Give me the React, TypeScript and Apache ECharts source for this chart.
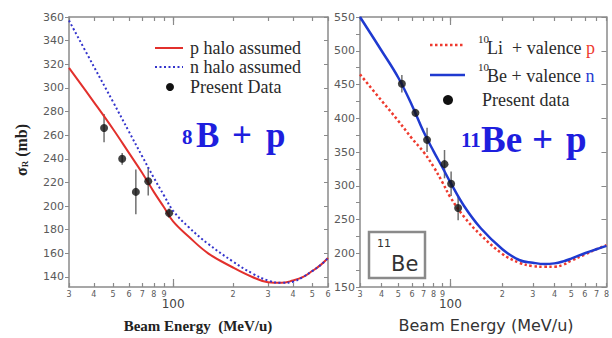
import React, { useEffect, useRef } from "react";
import * as echarts from "echarts";

// ---- Left panel (8B + p) ----
const leftEnergy = [30, 40, 50, 60, 70, 80, 90, 100, 120, 150, 200, 250, 300, 350, 400, 450, 500, 550, 600];
const leftPHalo = [317, 288, 265, 245, 228, 212, 199, 187, 174, 160, 148, 140, 135.5, 135, 137, 140, 145, 150, 156];
const leftNHalo = [357, 318, 288, 263, 242, 224, 209, 196, 182, 168, 153, 143, 137, 135, 136, 140, 145, 150, 156];
const leftDataE = [45, 55.5, 65, 75, 95.5];
const leftDataV = [266, 240, 212, 221, 194];
const leftDataErr = [12, 5, 19, 12, 4];
const leftYTicks = [140, 160, 180, 200, 220, 240, 260, 280, 300, 320, 340, 360];
const leftXTicks = [30, 40, 50, 60, 70, 80, 90, 100, 200, 300, 400, 500, 600];
const leftXSmallLabels = [30, 40, 50, 60, 70, 80, 90, 200, 300, 400, 500, 600];

// ---- Right panel (11Be + p) ----
const rightEnergy = [30, 40, 50, 60, 70, 80, 90, 100, 120, 150, 200, 250, 300, 350, 400, 450, 500, 600, 700, 800];
const rightBeN = [550, 500, 460, 419, 380, 351, 327, 305, 270, 237, 206, 190, 186, 184, 185, 188, 192, 200, 206, 211];
const rightLiP = [465, 426, 396, 370, 350, 328, 305, 283, 254, 227, 199, 186, 181, 180, 180, 183, 189, 198, 206, 212];
const rightDataE = [52.4, 62.8, 73.3, 92.5, 101, 110.9];
const rightDataV = [451, 408, 368, 332, 303, 267];
const rightDataErr = [13, 5, 18, 21, 18, 18];
const rightXTicks = [30, 40, 50, 60, 70, 80, 90, 100, 200, 300, 400, 500, 600, 700, 800];
const rightXSmallLabels = [30, 40, 50, 60, 70, 80, 90, 200, 300, 400, 500, 600, 700, 800];
const decadeLabels = [100];

const AX = "#8a8a8a";
const LBL = "#5a5a5a";
const SANS = "DejaVu Sans";
const SERIF = "Liberation Serif";
const BIGBLUE = "#1e1ede";

function smallFormatter(value: number) {
  const v = Math.round(value);
  return String(v >= 100 ? v / 100 : v / 10);
}

function xAxes(gridIndex: number, min: number, max: number, ticks: number[], small: number[]) {
  const base = {
    type: "log",
    logBase: 10,
    gridIndex,
    min,
    max,
    splitLine: { show: false },
    axisLine: { show: true, lineStyle: { color: AX, width: 1.5 } },
  };
  return [
    {
      ...base,
      position: "bottom",
      axisTick: { show: true, inside: true, length: 4, customValues: ticks, lineStyle: { color: AX, width: 1.2 } },
      axisLabel: {
        show: true,
        customValues: small,
        margin: 3,
        formatter: smallFormatter,
        fontSize: 8,
        color: LBL,
        fontFamily: SANS,
      },
    },
    {
      ...base,
      position: "top",
      axisTick: { show: true, inside: true, length: 4, customValues: ticks, lineStyle: { color: AX, width: 1.2 } },
      axisLabel: { show: false },
    },
    {
      ...base,
      position: "bottom",
      axisLine: { show: false },
      axisTick: { show: true, inside: true, length: 8, customValues: decadeLabels, lineStyle: { color: AX, width: 1.2 } },
      axisLabel: {
        show: true,
        customValues: decadeLabels,
        margin: 11,
        fontSize: 12,
        color: "#444",
        fontFamily: SANS,
        formatter: (v: number) => String(Math.round(v)),
      },
    },
    {
      ...base,
      position: "top",
      axisLine: { show: false },
      axisTick: { show: true, inside: true, length: 8, customValues: decadeLabels, lineStyle: { color: AX, width: 1.2 } },
      axisLabel: { show: false },
    },
  ];
}

const errorRender = (params: any, api: any) => {
  const x = api.value(0);
  const y = api.value(1);
  const e = api.value(2);
  const p1 = api.coord([x, y - e]);
  const p2 = api.coord([x, y + e]);
  return {
    type: "line",
    shape: { x1: p1[0], y1: p1[1], x2: p2[0], y2: p2[1] },
    style: { stroke: "#707070", lineWidth: 1.5 },
  };
};

function zip(a: number[], b: number[]) {
  return a.map((v, i) => [v, b[i]]);
}

export default function App() {
  const ref = useRef<HTMLDivElement>(null);
  useEffect(() => {
    if (!ref.current) return;
    const chart = echarts.init(ref.current, null, { renderer: "svg" });
    const option: any = {
      animation: false,
      backgroundColor: "#ffffff",
      grid: [
        { left: 69, top: 17, width: 259, height: 270 },
        { left: 360, top: 17, width: 252, height: 270 },
      ],
      xAxis: [...xAxes(0, 30, 600, leftXTicks, leftXSmallLabels), ...xAxes(1, 30, 800, rightXTicks, rightXSmallLabels)],
      yAxis: [
        {
          type: "value",
          gridIndex: 0,
          position: "left",
          min: 131.5,
          max: 360,
          splitLine: { show: false },
          axisLine: { show: true, lineStyle: { color: AX, width: 1.5 } },
          axisTick: { show: true, inside: false, length: 4, customValues: leftYTicks, lineStyle: { color: AX } },
          axisLabel: { show: true, customValues: leftYTicks, color: LBL, fontSize: 11, fontFamily: SANS, margin: 5 },
        },
        {
          type: "value",
          gridIndex: 0,
          position: "right",
          min: 131.5,
          max: 360,
          splitLine: { show: false },
          axisLine: { show: true, lineStyle: { color: AX, width: 1.5 } },
          axisTick: { show: true, inside: true, length: 4, customValues: leftYTicks, lineStyle: { color: AX } },
          axisLabel: { show: false },
        },
        {
          type: "value",
          gridIndex: 1,
          position: "left",
          min: 150,
          max: 550,
          interval: 50,
          splitLine: { show: false },
          axisLine: { show: true, lineStyle: { color: AX, width: 1.5 } },
          axisTick: { show: true, inside: false, length: 4, lineStyle: { color: AX } },
          minorTick: { show: true, splitNumber: 2, length: 4, lineStyle: { color: AX } },
          axisLabel: { show: true, color: LBL, fontSize: 11, fontFamily: SANS, margin: 5 },
        },
        {
          type: "value",
          gridIndex: 1,
          position: "right",
          min: 150,
          max: 550,
          interval: 50,
          splitLine: { show: false },
          axisLine: { show: true, lineStyle: { color: AX, width: 1.5 } },
          axisTick: { show: true, inside: true, length: 5, lineStyle: { color: AX } },
          axisLabel: { show: false },
        },
      ],
      series: [
        {
          type: "line",
          xAxisIndex: 0,
          yAxisIndex: 0,
          data: zip(leftEnergy, leftPHalo),
          smooth: 0.4,
          showSymbol: false,
          lineStyle: { color: "#e2302c", width: 2 },
        },
        {
          type: "line",
          xAxisIndex: 0,
          yAxisIndex: 0,
          data: zip(leftEnergy, leftNHalo),
          smooth: 0.4,
          showSymbol: false,
          lineStyle: { color: "#3434cc", width: 2, type: [2, 2.5] },
        },
        {
          type: "custom",
          xAxisIndex: 0,
          yAxisIndex: 0,
          renderItem: errorRender,
          encode: { x: 0, y: 1 },
          data: leftDataE.map((e, i) => [e, leftDataV[i], leftDataErr[i]]),
          z: 3,
        },
        {
          type: "scatter",
          xAxisIndex: 0,
          yAxisIndex: 0,
          data: zip(leftDataE, leftDataV),
          symbolSize: 8,
          itemStyle: { color: "#111" },
          z: 4,
        },
        {
          type: "line",
          xAxisIndex: 4,
          yAxisIndex: 2,
          data: zip(rightEnergy, rightLiP),
          smooth: 0.4,
          showSymbol: false,
          lineStyle: { color: "#ee3a2e", width: 2.5, type: [2.5, 2.5] },
        },
        {
          type: "line",
          xAxisIndex: 4,
          yAxisIndex: 2,
          data: zip(rightEnergy, rightBeN),
          smooth: 0.4,
          showSymbol: false,
          lineStyle: { color: "#1f3ad0", width: 2.5 },
        },
        {
          type: "custom",
          xAxisIndex: 4,
          yAxisIndex: 2,
          renderItem: errorRender,
          encode: { x: 0, y: 1 },
          data: rightDataE.map((e, i) => [e, rightDataV[i], rightDataErr[i]]),
          z: 3,
        },
        {
          type: "scatter",
          xAxisIndex: 4,
          yAxisIndex: 2,
          data: zip(rightDataE, rightDataV),
          symbolSize: 8,
          itemStyle: { color: "#111" },
          z: 4,
        },
      ],
      graphic: [
        // left legend
        { type: "line", shape: { x1: 155, y1: 48, x2: 183, y2: 48 }, style: { stroke: "#e2302c", lineWidth: 2 } },
        { type: "text", x: 190, y: 48, style: { text: "p halo assumed", font: `18px ${SERIF}`, fill: "#2a2a2a", verticalAlign: "middle" } },
        { type: "line", shape: { x1: 155, y1: 67, x2: 183, y2: 67 }, style: { stroke: "#3434cc", lineWidth: 2, lineDash: [2, 2.5] } },
        { type: "text", x: 190, y: 67, style: { text: "n halo assumed", font: `18px ${SERIF}`, fill: "#2a2a2a", verticalAlign: "middle" } },
        { type: "circle", shape: { cx: 170, cy: 87, r: 4 }, style: { fill: "#111" } },
        { type: "text", x: 190, y: 87, style: { text: "Present Data", font: `18px ${SERIF}`, fill: "#2a2a2a", verticalAlign: "middle" } },
        // right legend
        { type: "line", shape: { x1: 430, y1: 45, x2: 465, y2: 45 }, style: { stroke: "#ee3a2e", lineWidth: 2.5, lineDash: [2.5, 2.5] } },
        { type: "text", x: 478, y: 33, style: { text: "10", font: `11px ${SERIF}`, fill: "#2a2a2a", verticalAlign: "top" } },
        {
          type: "text",
          x: 487,
          y: 48,
          style: {
            text: "{t|Li  + valence }{r|p}",
            verticalAlign: "middle",
            rich: {
              t: { font: `18px ${SERIF}`, fill: "#2a2a2a" },
              r: { font: `18px ${SERIF}`, fill: "#ee3a2e" },
            },
          },
        },
        { type: "line", shape: { x1: 430, y1: 75, x2: 465, y2: 75 }, style: { stroke: "#1f3ad0", lineWidth: 2.5 } },
        { type: "text", x: 478, y: 61, style: { text: "10", font: `11px ${SERIF}`, fill: "#2a2a2a", verticalAlign: "top" } },
        {
          type: "text",
          x: 487,
          y: 76,
          style: {
            text: "{t|Be + valence }{b|n}",
            verticalAlign: "middle",
            rich: {
              t: { font: `18px ${SERIF}`, fill: "#2a2a2a" },
              b: { font: `18px ${SERIF}`, fill: "#1f3ad0" },
            },
          },
        },
        { type: "circle", shape: { cx: 448, cy: 100, r: 5 }, style: { fill: "#111" } },
        { type: "text", x: 482, y: 100, style: { text: "Present data", font: `18px ${SERIF}`, fill: "#2a2a2a", verticalAlign: "middle" } },
        // big labels
        { type: "text", x: 182, y: 126, style: { text: "8", font: `bold 21px ${SERIF}`, fill: BIGBLUE, verticalAlign: "top" } },
        { type: "text", x: 196, y: 153, style: { text: "B", font: `bold 35px ${SERIF}`, fill: BIGBLUE, verticalAlign: "bottom" } },
        { type: "text", x: 232, y: 153, style: { text: "+", font: `bold 35px ${SERIF}`, fill: BIGBLUE, verticalAlign: "bottom" } },
        { type: "text", x: 266, y: 153, style: { text: "p", font: `bold 35px ${SERIF}`, fill: BIGBLUE, verticalAlign: "bottom" } },
        { type: "text", x: 461, y: 129, style: { text: "11", font: `bold 21px ${SERIF}`, fill: BIGBLUE, verticalAlign: "top" } },
        { type: "text", x: 481, y: 158, style: { text: "Be", font: `bold 37px ${SERIF}`, fill: BIGBLUE, verticalAlign: "bottom" } },
        { type: "text", x: 532, y: 158, style: { text: "+", font: `bold 37px ${SERIF}`, fill: BIGBLUE, verticalAlign: "bottom" } },
        { type: "text", x: 566, y: 158, style: { text: "p", font: `bold 37px ${SERIF}`, fill: BIGBLUE, verticalAlign: "bottom" } },
        // 11Be box
        { type: "rect", shape: { x: 369, y: 232, width: 56, height: 46 }, style: { fill: "#fff", stroke: "#8a8a8a", lineWidth: 2.5 } },
        { type: "text", x: 377, y: 238, style: { text: "11", font: `11px ${SANS}`, fill: "#333", verticalAlign: "top" } },
        { type: "text", x: 391, y: 274, style: { text: "Be", font: `21px ${SANS}`, fill: "#333", verticalAlign: "bottom" } },
        // axis names
        {
          type: "text",
          x: 198,
          y: 326,
          style: { text: "Beam Energy  (MeV/u)", font: `bold 15px ${SERIF}`, fill: "#222", align: "center", verticalAlign: "middle" },
        },
        {
          type: "text",
          x: 486,
          y: 325,
          style: { text: "Beam Energy (MeV/u)", font: `16px ${SANS}`, fill: "#333", align: "center", verticalAlign: "middle" },
        },
        {
          type: "text",
          x: 21,
          y: 150,
          rotation: Math.PI / 2,
          style: {
            text: "{a|σ}{r|R}{a| (mb)}",
            align: "center",
            verticalAlign: "middle",
            rich: {
              a: { font: `bold 16px ${SERIF}`, fill: "#222" },
              r: { font: `bold 9px ${SERIF}`, fill: "#222", verticalAlign: "bottom" },
            },
          },
        },
      ],
    };
    chart.setOption(option);
    return () => chart.dispose();
  }, []);
  return <div ref={ref} style={{ position: "fixed", left: 0, top: 0, width: 612, height: 338 }} />;
}
